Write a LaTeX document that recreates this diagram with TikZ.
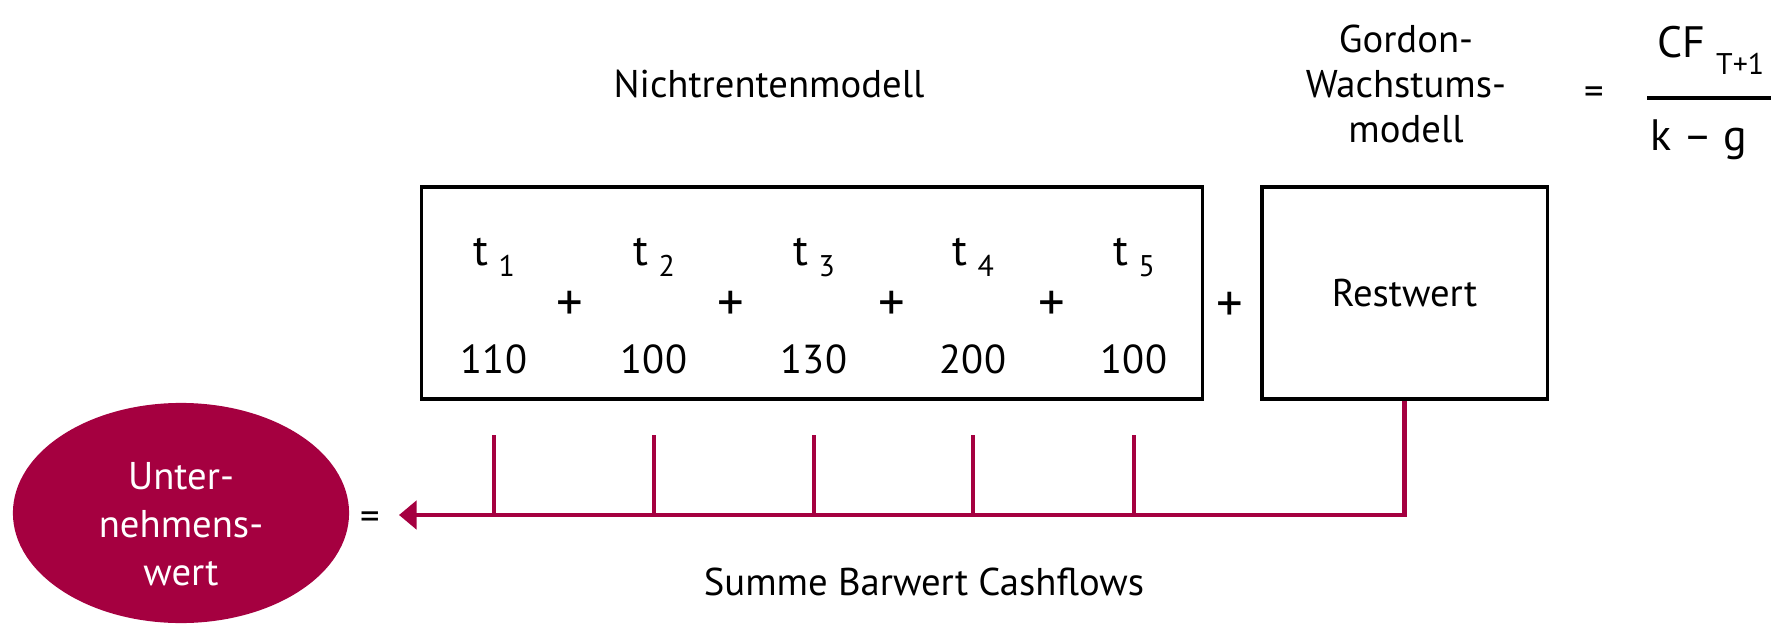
\documentclass[tikz,border=0pt]{standalone}
\usepackage{fontspec}
\setmainfont{PT Sans}
\usepackage{xcolor}
\usetikzlibrary{arrows.meta, positioning, shapes.geometric}
\definecolor{unired}{RGB}{165,0,64}
\tikzset{
    valuation/.style={x=0.01cm, y=-0.01cm, font=\fontsize{11}{13}\selectfont},
    flowbox/.style={draw, line width=0.9pt, minimum height=2.12cm, inner sep=0pt},
    period/.style={anchor=base, inner sep=0pt, font=\fontsize{12.5}{14}\selectfont},
    amount/.style={anchor=base, inner sep=0pt, font=\fontsize{11.5}{14}\selectfont},
    plussign/.style={inner sep=0pt, font=\fontsize{15}{16}\selectfont},
    formula/.style={anchor=base, inner sep=0pt, font=\fontsize{12.5}{14}\selectfont},
    result/.style={ellipse, fill=unired, minimum width=3.36cm, minimum height=2.2cm, inner sep=0pt},
    resulttext/.style={text=white, align=center, font=\fontsize{11}{13.7}\selectfont},
    cashline/.style={unired, line width=1.3pt},
}
\newcommand{\lowsub}[2]{\kern#1\raisebox{-3.4pt}{\fontsize{8.5}{10}\selectfont #2}}

\begin{document}
\begin{tikzpicture}[valuation]
    \useasboundingbox (0,0) rectangle (1771,624);

    \node[anchor=base] (nrm) at (769,97) {Nichtrentenmodell};
    \node[align=center, font=\fontsize{11}{12.8}\selectfont] (gordon) at (1406,84) {Gordon-\\Wachstums-\\modell};

    % Gordon formula
    \node (eq1) at (1594,96) {=};
    \node[formula] (cf) at (1711,57) {CF\kern3pt\raisebox{-5pt}{\fontsize{8.5}{10}\selectfont T+1}};
    \coordinate (barL) at (1647,98);
    \coordinate (barR) at (1771,98);
    \draw[line width=1.4pt] (barL) -- (barR);
    \node[formula] (kg) at (1699,150) {k -- g};

    % boxes
    \node[flowbox, minimum width=7.8cm] (nrbox) at (812,293) {};
    \node[flowbox, minimum width=2.85cm] (rest) at (1404.5,293) {Restwert};
    \node[plussign] (pr) at (1230,307) {+};

    \foreach \i/\x/\v in {1/494/110, 2/654/100, 3/814/130, 4/973/200, 5/1134/100} {
        \node[period] (t\i) at (\x,265) {t\lowsub{3pt}{\i}};
        \node[amount] (v\i) at (\x,373) {\v};
        \coordinate (tk\i) at (\x,435);
    }
    \foreach \i/\x in {1/570, 2/731, 3/892, 4/1052}
        \node[plussign] (p\i) at (\x,306) {+};

    % result
    \node[result] (uw) at (181,513) {};
    \node[resulttext] (uwtext) at (181,524) {Unter-\\nehmens-\\wert};
    \node (eq2) at (370,521) {=};
    \coordinate (tip) at (399,515);

    \draw[cashline, -{Triangle[length=5pt, width=8pt]}] (rest.south) |- (tip);
    \foreach \i in {1,...,5}
        \draw[cashline] (tk\i) -- (tk\i |- tip);

    \node[anchor=base] (sum) at (924,595) {Summe Barwert Cashflows};
\end{tikzpicture}
\end{document}
